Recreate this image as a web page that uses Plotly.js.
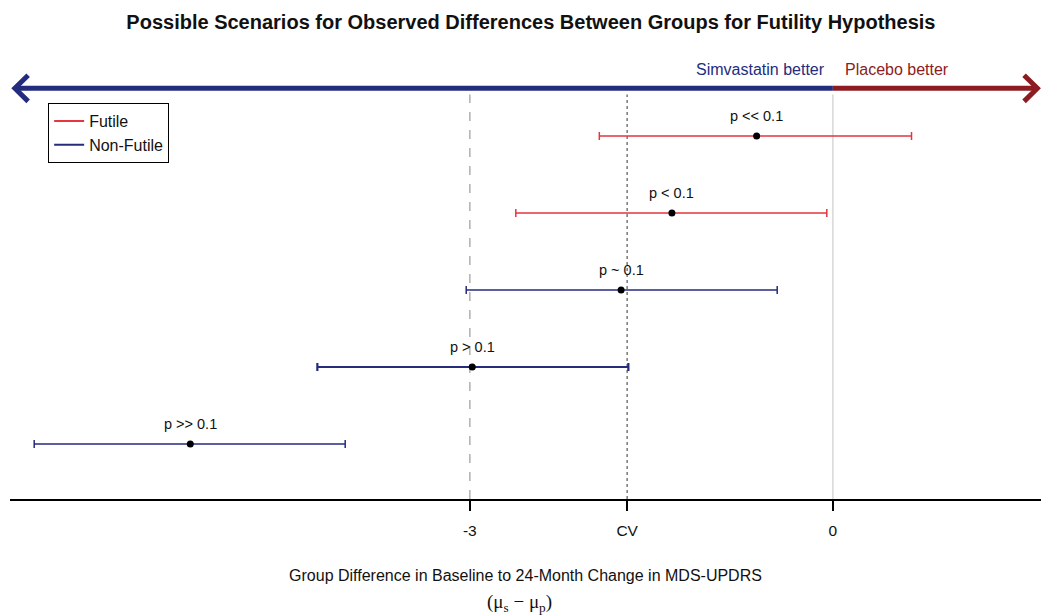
<!DOCTYPE html>
<html>
<head>
<meta charset="utf-8">
<script src="https://cdn.plot.ly/plotly-3.0.1.min.js"></script>
<style>html,body{margin:0;padding:0;background:#fff;}#chart{width:1041px;height:616px;}</style>
</head>
<body>
<div id="chart"></div>
<script>
// ---- data ----
const scenarios = ["p << 0.1", "p < 0.1", "p ~ 0.1", "p > 0.1", "p >> 0.1"];
const rowPos    = [5, 4, 3, 2, 1];
const estimates = [-0.63, -1.33, -1.75, -2.98, -5.31];
const lowerCI   = [-1.93, -2.62, -3.03, -4.26, -6.60];
const upperCI   = [0.65, -0.05, -0.46, -1.69, -4.03];
const status    = ["Futile", "Futile", "Non-Futile", "Non-Futile", "Non-Futile"];
const CV = -1.7;
const tickVals  = [-3, CV, 0];
const tickText  = ["-3", "CV", "0"];
const xRange = [-6.80, 1.72];
const yRange = [0.286, 5.987];
const arrowY = 5.62;
const arrowLeft = -6.76, arrowRight = 1.69;

const colors = {"Futile": "#e2373f", "Non-Futile": "#262b7c"};
const widths = [1.5, 1.5, 1.5, 2.2, 1.5];

const font = "Liberation Sans, Arial, sans-serif";
const traces = [];
const annotations = [];
scenarios.forEach((s, i) => {
  traces.push({
    type: "scatter", mode: "markers",
    x: [estimates[i]], y: [rowPos[i]],
    marker: {color: "#000", size: 7},
    error_x: {type: "data", symmetric: false,
      array: [upperCI[i] - estimates[i]], arrayminus: [estimates[i] - lowerCI[i]],
      color: colors[status[i]], thickness: widths[i], width: 4},
    showlegend: false, hoverinfo: "skip", cliponaxis: false
  });
  annotations.push({xref: "x", yref: "y", x: estimates[i], y: rowPos[i], yshift: 20,
    xanchor: "center", yanchor: "middle", text: s, showarrow: false,
    font: {family: font, size: 14.5, color: "#111"}});
});
// legend entries
["Futile", "Non-Futile"].forEach(n => {
  traces.push({type: "scatter", mode: "lines", x: [null], y: [null], name: n,
    line: {color: colors[n], width: 2}});
});
// top arrow lines
const blueA = "#232c7d", redA = "#8c1c22";
traces.push({type: "scatter", mode: "lines", x: [arrowLeft, 0], y: [arrowY, arrowY],
  line: {color: blueA, width: 5}, showlegend: false, hoverinfo: "skip", cliponaxis: false});
traces.push({type: "scatter", mode: "lines", x: [0, arrowRight], y: [arrowY, arrowY],
  line: {color: redA, width: 5}, showlegend: false, hoverinfo: "skip", cliponaxis: false});
// arrowheads (chevrons)
const dx = 0.11, dy = 0.17;
traces.push({type: "scatter", mode: "lines",
  x: [arrowLeft + dx, arrowLeft, arrowLeft + dx], y: [arrowY + dy, arrowY, arrowY - dy],
  line: {color: blueA, width: 5}, showlegend: false, hoverinfo: "skip", cliponaxis: false});
traces.push({type: "scatter", mode: "lines",
  x: [arrowRight - dx, arrowRight, arrowRight - dx], y: [arrowY + dy, arrowY, arrowY - dy],
  line: {color: redA, width: 5}, showlegend: false, hoverinfo: "skip", cliponaxis: false});

annotations.push(
  {xref: "x", yref: "y", x: -0.05, y: arrowY + 0.24, xanchor: "right", yanchor: "middle",
    text: "Simvastatin better", showarrow: false, font: {family: font, size: 16, color: blueA}},
  {xref: "x", yref: "y", x: 0.08, y: arrowY + 0.24, xanchor: "left", yanchor: "middle",
    text: "Placebo better", showarrow: false, font: {family: font, size: 16, color: redA}},
  {xref: "paper", yref: "paper", x: 0.4946, y: -0.237, xanchor: "center", yanchor: "middle",
    text: "(μ<sub>s</sub> − μ<sub>p</sub>)", showarrow: false,
    font: {family: "Liberation Serif, DejaVu Serif, serif", size: 19, color: "#111"}}
);

const layout = {
  width: 1041, height: 616,
  margin: {l: 10, r: 0, t: 60, b: 117},
  paper_bgcolor: "#fff", plot_bgcolor: "#fff",
  font: {family: font, size: 15, color: "#111"},
  title: {text: "<b>Possible Scenarios for Observed Differences Between Groups for Futility Hypothesis</b>",
    x: 0.51, xanchor: "center", y: 0.965, yanchor: "middle",
    font: {family: font, size: 20, color: "#111"}},
  xaxis: {range: xRange, showgrid: false, zeroline: false,
    showline: true, linecolor: "#000", linewidth: 1.5,
    tickmode: "array", tickvals: tickVals, ticktext: tickText,
    ticks: "outside", ticklen: 10, tickwidth: 2, tickcolor: "#000",
    ticklabelstandoff: 7,
    tickfont: {family: font, size: 15.5, color: "#111"},
    title: {text: "Group Difference in Baseline to 24-Month Change in MDS-UPDRS", standoff: 31,
      font: {family: font, size: 16, color: "#111"}}},
  yaxis: {range: yRange, visible: false, showgrid: false, zeroline: false},
  showlegend: true,
  legend: {x: 0.037, y: 0.902, xanchor: "left", yanchor: "top",
    bordercolor: "#000", borderwidth: 1, bgcolor: "#fff",
    font: {family: font, size: 16, color: "#111"}, tracegroupgap: 0, itemwidth: 30},
  shapes: [
    {type: "line", xref: "x", yref: "y", x0: -3, x1: -3, y0: yRange[0], y1: arrowY - 0.08,
      line: {color: "#b0b0b0", width: 1.5, dash: "dash"}, layer: "below"},
    {type: "line", xref: "x", yref: "y", x0: CV, x1: CV, y0: yRange[0], y1: arrowY - 0.08,
      line: {color: "#777", width: 1.5, dash: "dot"}, layer: "below"},
    {type: "line", xref: "x", yref: "y", x0: 0, x1: 0, y0: yRange[0], y1: arrowY - 0.08,
      line: {color: "#d8d8d8", width: 1.5}, layer: "below"}
  ],
  annotations: annotations
};
Plotly.newPlot("chart", traces, layout, {displayModeBar: false, staticPlot: true});
</script>
</body>
</html>
